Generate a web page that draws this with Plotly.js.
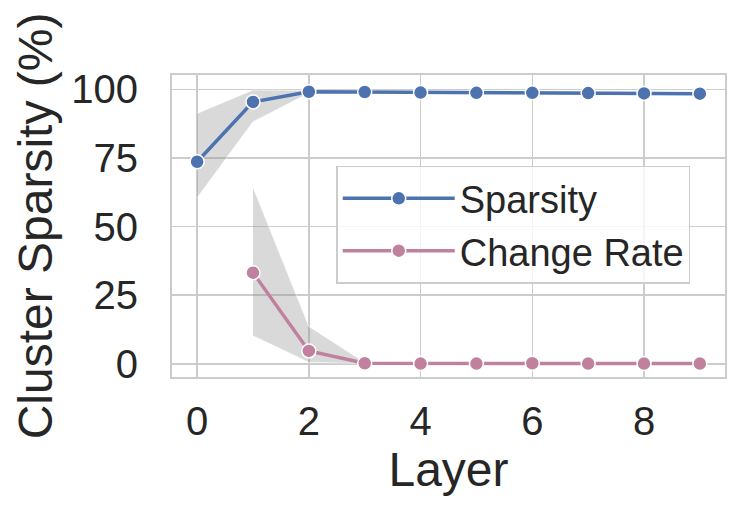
<!DOCTYPE html>
<html>
<head>
<meta charset="utf-8">
<script src="https://cdn.plot.ly/plotly-3.0.1.min.js"></script>
<style>
  html, body { margin: 0; padding: 0; background: #fff; }
  #chart { width: 747px; height: 505px; }
</style>
</head>
<body>
<div id="chart"></div>
<script>
// values
const layers = [0, 1, 2, 3, 4, 5, 6, 7, 8, 9];
const sparsity = [73.6, 95.4, 99.1, 99.0, 98.8, 98.7, 98.7, 98.6, 98.5, 98.4];
const sparsityUpper = [91.2, 99.7, 99.6, 99.6, 99.4, 99.3, 99.3, 99.2, 99.1, 99.0];
const sparsityLower = [60.5, 88.2, 98.6, 98.4, 98.2, 98.1, 98.1, 98.0, 97.9, 97.8];

const changeLayers = [1, 2, 3, 4, 5, 6, 7, 8, 9];
const changeRate = [33.2, 4.7, 0.2, 0.1, 0.1, 0.2, 0.1, 0.1, 0.1];
const changeUpper = [64.3, 13.6, 0.5, 0.3, 0.3, 0.4, 0.3, 0.3, 0.3];
const changeLower = [10.2, 0.6, 0.0, 0.0, 0.0, 0.0, 0.0, 0.0, 0.0];

const colors = { Sparsity: '#4c72b0', 'Change Rate': '#c0819f' };
const bandFill = 'rgba(140,140,140,0.33)';
const font = 'Liberation Sans, Arial, sans-serif';

function band(x, upper, lower) {
    return [
        { x: x, y: upper, type: 'scatter', mode: 'lines',
          line: { color: 'rgba(255,255,255,0.5)', width: 1 },
          showlegend: false, hoverinfo: 'skip' },
        { x: x, y: lower, type: 'scatter', mode: 'lines', fill: 'tonexty',
          fillcolor: bandFill, line: { color: 'rgba(255,255,255,0.5)', width: 1 },
          showlegend: false, hoverinfo: 'skip' }
    ];
}

function series(x, y, name) {
    return {
        x: x, y: y, name: name, type: 'scatter', mode: 'lines+markers',
        line: { color: colors[name], width: 3.5 },
        marker: { color: colors[name], size: 14, line: { color: '#fff', width: 1.5 } }
    };
}

const traces = [
    ...band(layers, sparsityUpper, sparsityLower),
    ...band(changeLayers, changeUpper, changeLower),
    series(layers, sparsity, 'Sparsity'),
    series(changeLayers, changeRate, 'Change Rate')
];

const layout = {
    width: 747,
    height: 505,
    margin: { l: 172, r: 22, t: 75, b: 128 },
    paper_bgcolor: '#fff',
    plot_bgcolor: '#fff',
    font: { family: font, color: '#262626', size: 40 },
    showlegend: true,
    legend: {
        x: 0.297, y: 0.70, xanchor: 'left', yanchor: 'top',
        traceorder: 'normal',
        bgcolor: 'rgba(255,255,255,0.8)',
        bordercolor: '#cccccc', borderwidth: 1.5,
        font: { size: 38, color: '#262626' },
        itemwidth: 112
    },
    xaxis: {
        range: [-0.45, 9.45],
        tickvals: [0, 2, 4, 6, 8],
        ticks: 'outside', ticklen: 8, tickcolor: 'rgba(0,0,0,0)',
        showgrid: true, gridcolor: '#cccccc', gridwidth: 1.5,
        zeroline: false,
        showline: true, mirror: true, linecolor: '#cccccc', linewidth: 2,
        title: { text: 'Layer', font: { size: 48 }, standoff: 8 }
    },
    yaxis: {
        range: [-4.8, 105.2],
        tickvals: [0, 25, 50, 75, 100],
        ticks: 'outside', ticklen: 24, tickcolor: 'rgba(0,0,0,0)',
        showgrid: true, gridcolor: '#cccccc', gridwidth: 1.5,
        zeroline: false,
        showline: true, mirror: true, linecolor: '#cccccc', linewidth: 2,
        title: { text: 'Cluster Sparsity (%)', font: { size: 48 }, standoff: 3 }
    }
};

Plotly.newPlot('chart', traces, layout, { displayModeBar: false, staticPlot: true });
</script>
</body>
</html>
